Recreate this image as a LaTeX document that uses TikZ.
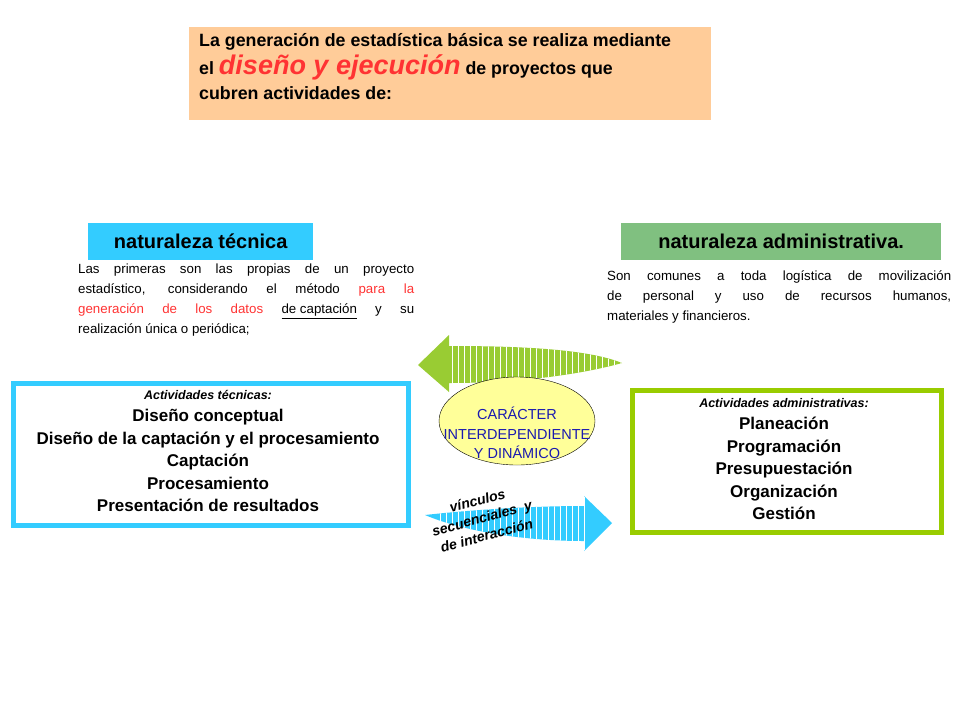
\documentclass[tikz,border=0pt]{standalone}
\usepackage{fontspec}
\setmainfont{Liberation Sans}
\usetikzlibrary{shapes.geometric}
\definecolor{peach}{HTML}{FFCC99}
\definecolor{cyanb}{HTML}{33CCFF}
\definecolor{greenb}{HTML}{80C080}
\definecolor{lime}{HTML}{99CC00}
\definecolor{arrgreen}{HTML}{99CC33}
\definecolor{ellfill}{HTML}{FFFF99}
\definecolor{txtred}{HTML}{FF3333}
\definecolor{dblue}{HTML}{1A1AB0}
\begin{document}
\begin{tikzpicture}[x=1pt,y=-1pt,
  para/.style={anchor=north west,align=justify,font=\fontsize{13.3}{20}\selectfont,inner sep=0},
  title/.style={font=\fontsize{20}{24}\selectfont\bfseries,inner sep=0,minimum height=37},
  actbox/.style={line width=5pt,fill=white,anchor=north west},
  acttext/.style={align=center,font=\fontsize{17}{22.5}\selectfont\bfseries}]
\useasboundingbox (0,0) rectangle (960,720);
% top box
\node[fill=peach,minimum width=522,minimum height=93,anchor=north west,inner sep=0] (top) at (189,27) {};
\node[anchor=north west,align=left,inner sep=0,font=\fontsize{17.8}{28}\selectfont\bfseries] (toptxt) at (199,33)
 {La generación de estadística básica se realiza mediante\\
  el {\color{txtred}\fontsize{27}{28}\selectfont\itshape diseño y ejecución} de proyectos que\\[-3pt]
  cubren actividades de:};
% titles
\node[title,fill=cyanb,minimum width=225,anchor=north west] (tec) at (88,223) {naturaleza técnica};
\node[title,fill=greenb,minimum width=320,anchor=north west] (adm) at (621,223) {naturaleza administrativa.};
% paragraphs
\node[para,text width=336] (ptec) at (78,264) {Las primeras son las propias de un proyecto\linebreak estadístico, considerando el método {\color{txtred}para la\linebreak generación de los datos} \underline{de captación} y su\linebreak realización única o periódica;};
\node[para,text width=344] (padm) at (607,271) {Son comunes a toda logística de movilización\linebreak de personal y uso de recursos humanos,\linebreak materiales y financieros.};
% boxes
\node[actbox,draw=cyanb,minimum width=395,minimum height=142] (bt) at (10.5,380.5) {};
\node[acttext] (btt) at (208,451) {{\fontsize{12.5}{16}\selectfont\itshape Actividades técnicas:}\\Diseño conceptual\\Diseño de la captación y el procesamiento\\Captación\\Procesamiento\\Presentación de resultados};
\node[actbox,draw=lime,minimum width=309,minimum height=142] (ba) at (629.5,387.5) {};
\node[acttext] (bat) at (784,459) {{\fontsize{12.5}{16}\selectfont\itshape Actividades administrativas:}\\Planeación\\Programación\\Presupuestación\\Organización\\Gestión};
% green arrow
\begin{scope}
\clip (418,365) -- (449,335) -- (449,346) .. controls (530,346) and (590,350) .. (622,363) .. controls (590,372) and (530,383) .. (449,383) -- (449,392) -- cycle;
\fill[arrgreen] (410,320) rectangle (630,400);
\foreach \x in {452,458,...,620} \draw[white,line width=1pt] (\x,320) -- (\x,400);
\end{scope}
% blue arrow
\begin{scope}
\clip (612,523) -- (584,551) -- (584,541) .. controls (520,541) and (460,530) .. (425,515) .. controls (470,510) and (530,506) .. (584,506) -- (584,496) -- cycle;
\fill[cyanb] (420,490) rectangle (620,560);
\foreach \x in {440,446,...,584} \draw[white,line width=1pt] (\x,490) -- (\x,560);
\end{scope}
% ellipse
\node[ellipse,draw,fill=ellfill,minimum width=156,minimum height=88,inner sep=0] (ell) at (517,421) {};
\node[align=center,text=dblue,font=\fontsize{14.5}{19.5}\selectfont] (elltxt) at (517,433) {CARÁCTER\\INTERDEPENDIENTE\\Y DINÁMICO};
% rotated text
\node[rotate=15,align=center,font=\fontsize{14}{18}\selectfont\bfseries\itshape] (v) at (482,518) {vínculos\\secuenciales\ \ y\\de interacción};
\end{tikzpicture}
\end{document}
